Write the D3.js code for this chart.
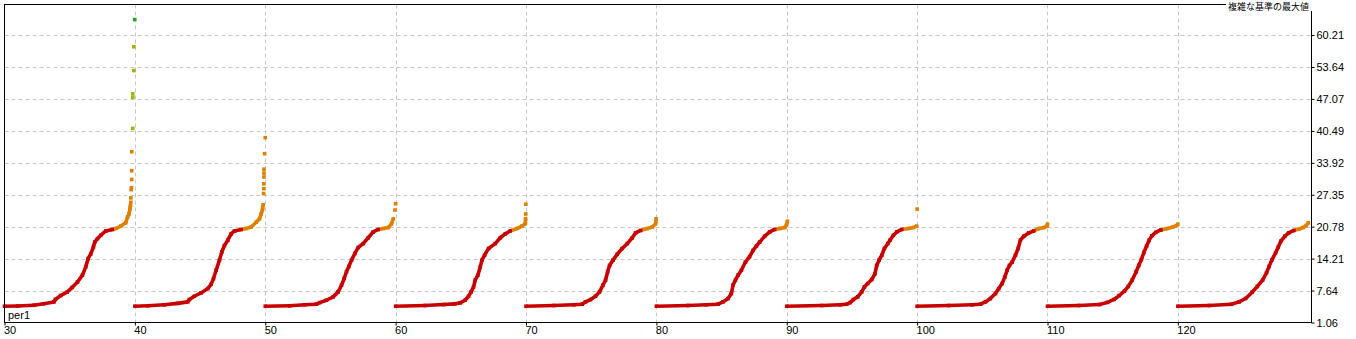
<!DOCTYPE html>
<html>
<head>
<meta charset="utf-8">
<script src="https://cdn.jsdelivr.net/npm/d3@7"></script>
<style>
  body { margin: 0; background: #ffffff; }
  text { font-family: "Liberation Sans", Arial, sans-serif; }
</style>
</head>
<body>
<div id="chart"></div>
<script>

// per1 groups (x axis) and their sorted results, [offset inside group, value]
const per1 = [30, 40, 50, 60, 70, 80, 90, 100, 110, 120]
const xTicks = [30, 40, 50, 60, 70, 80, 90, 100, 110, 120]
const yTicks = [1.06, 7.64, 14.21, 20.78, 27.35, 33.92, 40.49, 47.07, 53.64, 60.21]

const g30 = [[0,4.41],[1.0,4.45],[2.25,4.6],[3.0,4.9],[3.8,5.3],[3.9,5.8],[4.3,6.6],[4.8,7.3],[5.2,8.3],[5.6,9.4],[5.98,10.8],[6.23,12.5],[6.41,14.2],[6.62,15.2],[6.82,16.6],[6.92,17.6],[7.13,18.3],[7.38,19.0],[7.77,19.9],[8.28,20.2],[8.54,20.4],[8.92,20.9],[9.31,21.6],[9.44,22.8],[9.55,23.4],[9.62,24.4],[9.66,25.2]]
const t30 = [[9.69,25.8],[9.69,26.7],[9.72,28.4],[9.74,28.8],[9.76,30.5],[9.76,32.3],[9.76,36.2],[9.84,41.0],[9.84,47.4],[9.84,48.1],[9.92,52.9],[9.92,57.8],[9.99,63.4]]

const g40 = [[0,4.41],[1.0,4.5],[2.26,4.7],[3.28,5.0],[4.05,5.3],[4.18,5.78],[4.56,6.46],[5.08,7.15],[5.59,8.04],[5.85,8.93],[6.03,10.1],[6.23,11.8],[6.49,13.9],[6.67,15.6],[6.87,16.9],[7.13,18.0],[7.38,19.3],[7.64,19.9],[8.15,20.2],[8.54,20.4],[8.92,20.7],[9.31,21.7],[9.56,22.4],[9.69,23.4],[9.79,24.3],[9.84,25.3]]
const t40 = [[9.87,27.6],[9.88,28.6],[9.89,29.6],[9.9,31.0],[9.9,31.8],[9.9,32.6],[9.95,35.8],[10.0,39.1]]

const g50 = [[0,4.41],[1.87,4.5],[3.02,4.7],[3.92,4.82],[4.18,5.16],[4.69,5.64],[5.21,6.33],[5.59,7.36],[5.85,8.73],[6.05,10.1],[6.23,11.5],[6.41,12.6],[6.62,13.9],[6.87,15.25],[7.13,16.5],[7.51,17.3],[7.9,18.5],[8.28,19.7],[8.67,20.2],[9.05,20.4],[9.44,20.6],[9.69,21.4],[9.82,22.4]]
const t50 = [[9.95,24.2],[10.0,25.5]]

const g60 = [[0,4.41],[2.26,4.55],[3.67,4.75],[4.56,4.9],[4.95,5.1],[5.33,5.64],[5.59,6.46],[5.79,7.36],[5.98,8.39],[6.1,9.76],[6.31,10.8],[6.49,12.5],[6.62,13.9],[6.82,14.9],[7.13,16.3],[7.64,17.3],[8.03,18.5],[8.41,19.3],[8.79,19.9],[9.31,20.4],[9.69,20.9],[9.95,21.4],[9.97,22.4]]
const t60 = [[9.98,23.4],[9.99,25.4]]

const g70 = [[0,4.41],[2.13,4.55],[3.67,4.7],[4.31,4.82],[4.56,5.3],[4.95,5.78],[5.33,6.46],[5.64,7.36],[5.9,8.73],[6.1,9.76],[6.26,11.5],[6.41,12.8],[6.67,13.9],[7.0,15.1],[7.38,16.3],[7.77,17.3],[8.15,18.5],[8.41,19.5],[8.79,20.0],[9.31,20.4],[9.69,20.7],[9.95,21.4],[9.98,22.4]]
const t70 = []

const g80 = [[0,4.41],[2.43,4.55],[3.83,4.7],[4.73,4.82],[5.11,5.3],[5.5,5.98],[5.75,7.01],[5.88,8.73],[6.06,9.76],[6.27,10.8],[6.52,11.8],[6.83,13.5],[7.15,14.6],[7.42,15.9],[7.67,16.8],[7.92,17.6],[8.3,18.8],[8.69,19.7],[9.07,20.2],[9.46,20.4],[9.84,20.6],[9.98,21.1],[10.05,21.9]]
const t80 = []

const g90 = [[0,4.41],[2.68,4.55],[4.09,4.7],[4.6,4.82],[4.86,5.16],[5.11,5.78],[5.44,6.33],[5.75,7.36],[5.96,8.39],[6.21,9.07],[6.52,9.9],[6.77,11.1],[6.9,12.8],[7.08,13.9],[7.29,14.9],[7.49,16.3],[7.75,17.3],[7.92,18.0],[8.18,19.0],[8.44,19.7],[8.82,20.2],[9.33,20.4],[9.72,20.6],[9.97,20.9]]
const t90 = [[10.0,24.4]]

const g100 = [[0,4.41],[2.43,4.55],[4.22,4.7],[4.86,4.82],[5.24,5.3],[5.62,5.98],[6.01,7.01],[6.26,8.04],[6.52,9.07],[6.72,10.4],[6.9,11.8],[7.08,12.8],[7.29,13.5],[7.54,14.9],[7.75,16.3],[7.92,18.0],[8.18,18.8],[8.56,19.5],[8.95,19.9],[9.33,20.4],[9.72,20.6],[9.97,20.9],[10.0,21.3]]
const t100 = []

const g110 = [[0,4.41],[2.4,4.55],[4.0,4.75],[4.6,5.2],[5.1,5.8],[5.5,6.6],[5.9,7.5],[6.2,8.5],[6.5,9.8],[6.8,11.5],[7.0,12.8],[7.2,14.0],[7.4,15.5],[7.6,16.8],[7.8,18.0],[8.0,18.9],[8.3,19.6],[8.7,20.1],[9.2,20.4],[9.6,20.7],[9.9,21.0],[10.0,21.3]]
const t110 = []

const g120 = [[0,4.41],[2.4,4.55],[4.1,4.8],[4.7,5.3],[5.2,6.0],[5.7,7.3],[6.1,8.5],[6.5,9.8],[6.8,11.3],[7.0,12.6],[7.2,13.9],[7.5,15.4],[7.7,16.6],[7.9,17.8],[8.2,18.8],[8.5,19.5],[8.9,20.0],[9.3,20.3],[9.6,20.6],[9.85,21.0],[10.0,21.6]]
const t120 = []

const curves = [g30, g40, g50, g60, g70, g80, g90, g100, g110, g120]
const tails = [t30, t40, t50, t60, t70, t80, t90, t100, t110, t120]

const title = "複雑な基準の最大値"
const xName = "per1"

const width = 1356
const height = 339

const x = d3.scaleLinear().domain([30, 130.25]).range([4.5, 1311.5])
const y = d3.scaleLinear().domain([1.06, 66.5]).range([322.5, 4.5])

// colour steps by result value, like the tester palette
const colour = d3.scaleThreshold()
  .domain([20.3, 39.5, 60])
  .range(["#c80000", "#e08000", "#a4b400", "#28a028"])

const svg = d3.select(document.getElementById('chart'))
  .append('svg')
  .attr("xmlns", 'http://www.w3.org/2000/svg')
  .attr('width', width)
  .attr('height', height)
  .style('background-color', "#ffffff")

// grid
svg.append('g')
  .selectAll('line')
  .data(xTicks.slice(1))
  .enter()
  .append('line')
  .attr('x1', d => Math.round(x(d)) + 0.5)
  .attr('x2', d => Math.round(x(d)) + 0.5)
  .attr('y1', y.range()[1])
  .attr('y2', y.range()[0])
  .attr('stroke', "#c8c8c8")
  .attr('stroke-dasharray', "4,3")

svg.append('g')
  .selectAll('line')
  .data(yTicks.slice(1))
  .enter()
  .append('line')
  .attr('x1', x.range()[0])
  .attr('x2', x.range()[1])
  .attr('y1', d => Math.round(y(d)) + 0.5)
  .attr('y2', d => Math.round(y(d)) + 0.5)
  .attr('stroke', "#c8c8c8")
  .attr('stroke-dasharray', "4,3")

// points
const pts = svg.append('g')
curves.forEach((c, k) => {
  const base = per1[k]
  for (let i = 1; i < c.length; i++) {
    const a = c[i - 1], b = c[i]
    pts.append('line')
      .attr('x1', x(base + a[0]))
      .attr('y1', y(a[1]))
      .attr('x2', x(base + b[0]))
      .attr('y2', y(b[1]))
      .attr('stroke', colour(b[1]))
      .attr('stroke-width', 3.6)
  }
  pts.selectAll(null)
    .data(c.concat(tails[k]))
    .enter()
    .append('rect')
    .attr('x', d => x(base + d[0]) - 1.8)
    .attr('y', d => y(d[1]) - 1.8)
    .attr('width', 3.6)
    .attr('height', 3.6)
    .attr('fill', d => colour(d[1]))
})

// frame
svg.append('rect')
  .attr('x', x.range()[0])
  .attr('y', y.range()[1])
  .attr('width', x.range()[1] - x.range()[0])
  .attr('height', y.range()[0] - y.range()[1])
  .attr('fill', 'none')
  .attr('stroke', '#000000')

// right axis
const yAxis = svg.append('g')
  .attr('transform', `translate(${x.range()[1]},0)`)
  .call(d3.axisRight(y).tickValues(yTicks).tickSize(3).tickPadding(2).tickFormat(d3.format(".2f")))
yAxis.select('.domain').remove()
yAxis.selectAll('text').attr('font-size', 11).attr('font-family', '"Liberation Sans", Arial, sans-serif').attr('fill', '#000')

// bottom axis
const xAxis = svg.append('g')
  .attr('transform', `translate(0,${y.range()[0]})`)
  .call(d3.axisBottom(x).tickValues(xTicks).tickSize(3).tickFormat(d3.format("d")))
xAxis.select('.domain').remove()
xAxis.selectAll('text')
  .attr('font-size', 11)
  .attr('font-family', '"Liberation Sans", Arial, sans-serif')
  .attr('fill', '#000')
  .attr('text-anchor', 'start')
  .attr('dx', -1)
  .attr('y', 4)

svg.append('text')
  .attr('x', 8)
  .attr('y', 319)
  .attr('font-size', 11)
  .attr('fill', '#000')
  .text(xName)

// title box top right
svg.append('rect')
  .attr('x', 1226)
  .attr('y', 0)
  .attr('width', 86)
  .attr('height', 11)
  .attr('fill', '#ffffff')

svg.append('text')
  .attr('x', 1309)
  .attr('y', 10)
  .attr('text-anchor', 'end')
  .attr('font-size', 9)
  .style('font-family', '"Noto Sans CJK JP", sans-serif')
  .attr('fill', '#000')
  .text(title)

</script>
</body>
</html>
